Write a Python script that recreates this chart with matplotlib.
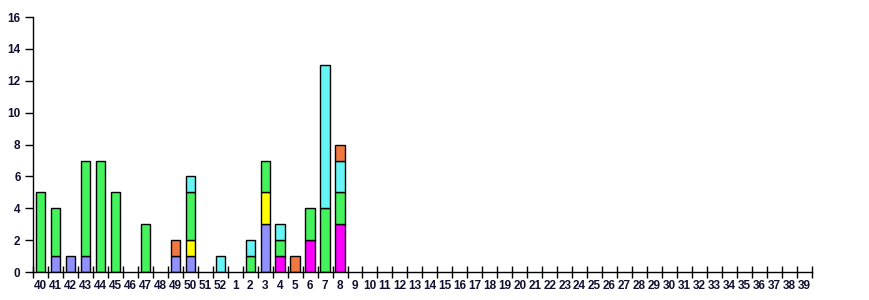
import numpy as np
import matplotlib.pyplot as plt

# semanas (40..52 e depois 1..39)
semanas = [str(s) for s in list(range(40, 53)) + list(range(1, 40))]

# contagens por semana, uma lista por série (preenchidas só até a semana 8)
azul =    [0, 1, 1, 1, 0, 0, 0, 0, 0, 1, 1, 0, 0, 0, 0, 3, 0, 0, 0, 0, 0]
magenta = [0, 0, 0, 0, 0, 0, 0, 0, 0, 0, 0, 0, 0, 0, 0, 0, 1, 0, 2, 0, 3]
amarelo = [0, 0, 0, 0, 0, 0, 0, 0, 0, 0, 1, 0, 0, 0, 0, 2, 0, 0, 0, 0, 0]
verde =   [5, 3, 0, 6, 7, 5, 0, 3, 0, 0, 3, 0, 0, 0, 1, 2, 1, 0, 2, 4, 2]
ciano =   [0, 0, 0, 0, 0, 0, 0, 0, 0, 0, 1, 0, 1, 0, 1, 0, 1, 0, 0, 9, 2]
laranja = [0, 0, 0, 0, 0, 0, 0, 0, 0, 1, 0, 0, 0, 0, 0, 0, 0, 1, 0, 0, 1]

series = [azul, magenta, amarelo, verde, ciano, laranja]
cores = ['#9090ff', '#ff00ff', '#ffff00', '#44f25c', '#66f5f5', '#f07840']

n = len(semanas)
x = np.arange(n)

fig = plt.figure(figsize=(8.7, 3.0), dpi=100)
ax = fig.add_axes([0.038, 0.093, 0.895, 0.850])

base = np.zeros(n)
for valores, cor in zip(series, cores):
    v = np.zeros(n)
    v[:len(valores)] = valores
    mask = v > 0
    ax.bar(x[mask], v[mask], bottom=base[mask], width=0.62, color=cor,
           edgecolor='black', linewidth=1.0, zorder=2)
    base += v

ax.set_xlim(-0.5, n - 0.5)
ax.set_ylim(0, 16)
ax.set_yticks(range(0, 17, 2))

# ticks do eixo x nas divisões entre as semanas, rótulos no centro
ax.set_xticks(np.arange(-0.5, n, 1.0))
ax.set_xticklabels([])
ax.set_xticks(x, minor=True)
ax.set_xticklabels(semanas, minor=True)
ax.tick_params(axis='x', which='minor', length=0, pad=6)
ax.tick_params(axis='x', which='major', direction='inout', length=8, width=1)
ax.tick_params(axis='y', direction='out', length=6, width=1, pad=3)

for lbl in ax.get_xticklabels(minor=True) + ax.get_yticklabels():
    lbl.set_fontweight('bold')
    lbl.set_fontsize(8.5)
    lbl.set_color('#101030')
    lbl.set_family('Liberation Sans')

for lado in ['top', 'right']:
    ax.spines[lado].set_visible(False)
ax.spines['left'].set_linewidth(1)
ax.spines['bottom'].set_linewidth(1)

fig.savefig('out.png', dpi=100)
